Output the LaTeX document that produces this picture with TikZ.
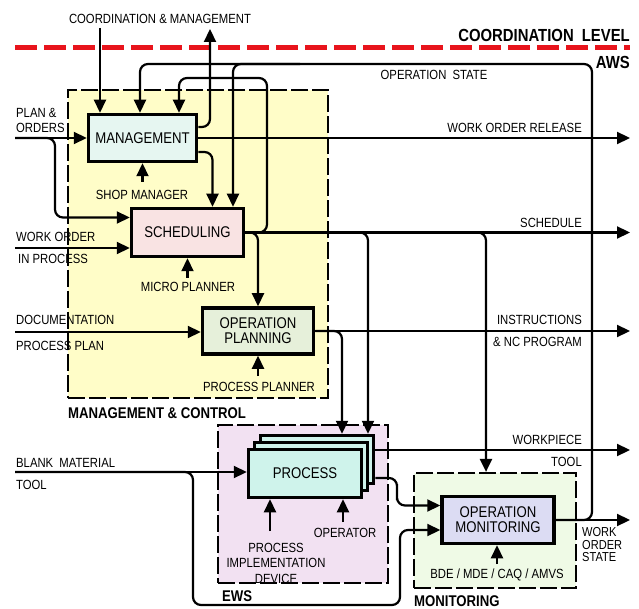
\documentclass[tikz,border=0pt]{standalone}
\usepackage{fontspec}
\setmainfont{Liberation Sans}[FakeStretch=0.85]
\usetikzlibrary{arrows.meta}

\definecolor{mcfill}{HTML}{FFFDC8}
\definecolor{ewsfill}{HTML}{F2E1F2}
\definecolor{monfill}{HTML}{EFFAE6}
\definecolor{mgmtfill}{HTML}{E6F6F1}
\definecolor{schedfill}{HTML}{F9E3E3}
\definecolor{opplanfill}{HTML}{E6F0DA}
\definecolor{procfill}{HTML}{CFF3EB}
\definecolor{opmonfill}{HTML}{DCDCF3}
\definecolor{coordred}{HTML}{E8141C}

\newcommand{\lblfont}{\fontsize{13.3}{15.5}\selectfont}
\newcommand{\unitfont}{\fontsize{15.5}{15}\selectfont}
\newcommand{\grpfont}{\fontsize{15.5}{17}\selectfont\bfseries}

\tikzset{
	lbl/.style={font=\lblfont, inner sep=0pt},
	grplbl/.style={font=\grpfont, inner sep=0pt},
	unitbox/.style={draw, line width=3.5pt, inner sep=0pt, align=center, font=\unitfont},
	region/.style={draw, line width=2.2pt, dash pattern=on 17pt off 4pt, inner sep=0pt},
	coordline/.style={coordred, line width=5pt, dash pattern=on 22pt off 7pt},
	flow/.style={line width=2.2pt, rounded corners=8pt},
	arr/.style={flow, -{Triangle[length=13pt,width=12pt]}}
}

\begin{document}
\begin{tikzpicture}[x=1pt, y=-1pt]
	\useasboundingbox (0,0) rectangle (639,609);
	\coordinate (rx) at (630,0);

	% regions
	\node[region, fill=mcfill, minimum width=260pt, minimum height=308pt] (mc) at (198,244) {};
	\node[region, fill=ewsfill, minimum width=170pt, minimum height=158pt] (ews) at (303,504) {};
	\node[region, fill=monfill, minimum width=162pt, minimum height=115pt] (mon) at (495,530.5) {};
	\node[grplbl, anchor=west] (mclbl) at (68,413) {MANAGEMENT \& CONTROL};
	\node[grplbl, anchor=west] (ewslbl) at (222,596) {EWS};
	\node[grplbl, anchor=west] (monlbl) at (414,601) {MONITORING};

	% coordination level
	\coordinate (clL) at (15,48);
	\coordinate (clR) at (630,48);
	\draw[coordline] (clL) -- (clR);
	\node[grplbl, font=\fontsize{17.5}{19}\selectfont\bfseries, anchor=east] (cllbl) at (630,35) {COORDINATION\hspace{4pt} LEVEL};
	\node[grplbl, font=\fontsize{17.5}{19}\selectfont\bfseries, anchor=east] (awslbl) at (630,62) {AWS};

	% units
	\node[unitbox, fill=mgmtfill, minimum width=108pt, minimum height=47pt] (mgmt) at (142.5,138) {MANAGEMENT};
	\node[unitbox, fill=schedfill, minimum width=112pt, minimum height=48pt] (sched) at (187.5,232.5) {SCHEDULING};
	\node[unitbox, fill=opplanfill, minimum width=111pt, minimum height=46pt] (opplan) at (258,331) {OPERATION\\PLANNING};
	\node[unitbox, fill=procfill, minimum width=113pt, minimum height=48pt] (procC) at (317,459.5) {};
	\node[unitbox, fill=procfill, minimum width=113pt, minimum height=48pt] (procB) at (311,466.5) {};
	\node[unitbox, fill=procfill, minimum width=113pt, minimum height=48pt] (proc) at (305,473.5) {PROCESS};
	\node[unitbox, fill=opmonfill, minimum width=112pt, minimum height=47pt] (opmon) at (498,520) {OPERATION\\MONITORING};

	% labels
	\node[lbl] (cmlbl) at (160,19) {COORDINATION \& MANAGEMENT};
	\node[lbl] (oslbl) at (434,75) {OPERATION\hspace{3pt} STATE};
	\node[lbl, anchor=east] (worlbl) at (582,128) {WORK ORDER RELEASE};
	\node[lbl, anchor=west] (planlbl) at (16,113) {PLAN \&};
	\node[lbl, anchor=west] (ordlbl) at (16,128) {ORDERS};
	\node[lbl] (shoplbl) at (142,195) {SHOP MANAGER};
	\node[lbl, anchor=west] (wolbl) at (16,237) {WORK ORDER};
	\node[lbl, anchor=west] (iplbl) at (18,259) {IN PROCESS};
	\node[lbl] (microlbl) at (188,287) {MICRO PLANNER};
	\node[lbl, anchor=west] (doclbl) at (16,320) {DOCUMENTATION};
	\node[lbl, anchor=west] (pplbl) at (16,346) {PROCESS PLAN};
	\node[lbl] (pplannerlbl) at (259,387) {PROCESS PLANNER};
	\node[lbl, anchor=east] (schedlbl) at (582,223) {SCHEDULE};
	\node[lbl, anchor=east] (instlbl) at (582,320) {INSTRUCTIONS};
	\node[lbl, anchor=east] (nclbl) at (582,342) {\& NC PROGRAM};
	\node[lbl, anchor=west] (bmlbl) at (16,463) {BLANK\hspace{3pt} MATERIAL};
	\node[lbl, anchor=west] (toollbl) at (16,485) {TOOL};
	\node[lbl, align=center] (pidlbl) at (276,563) {PROCESS\\IMPLEMENTATION\\DEVICE};
	\node[lbl] (oplbl) at (345,533) {OPERATOR};
	\node[lbl, anchor=east] (wplbl) at (582,440) {WORKPIECE};
	\node[lbl, anchor=east] (tool2lbl) at (582,462) {TOOL};
	\node[lbl, anchor=west, align=left, font=\fontsize{13}{12.5}\selectfont] (woslbl) at (582,545) {WORK\\ORDER\\STATE};
	\node[lbl] (bdelbl) at (497,575) {BDE / MDE / CAQ / AMVS};

	% inputs from the left
	\coordinate (planIn) at (15,138);
	\coordinate (planBr) at (55,180);
	\draw[arr] (planIn) -- (mgmt.west);
	\draw[arr] (planIn) -| (planBr) |- ([yshift=15pt]sched.west);
	\coordinate (woIn) at (15,248);
	\draw[arr] (woIn) -- (woIn -| sched.west);
	\coordinate (docIn) at (15,332);
	\draw[arr] (docIn) -- (docIn -| opplan.west);
	\coordinate (bmIn) at (15,472);
	\coordinate (bmLow) at (193,605);
	\coordinate (bmUp) at (400,530);
	\draw[arr] (bmIn) -- (bmIn -| proc.west);
	\draw[arr] (bmIn) -| (bmLow) -| (bmUp) -- (bmUp -| opmon.west);

	% coordination & management
	\coordinate (cmIn) at (100,28);
	\coordinate (cmOut) at (210,29);
	\draw[arr] (cmIn) -- (cmIn |- mgmt.north);
	\draw[arr] ([yshift=11pt]mgmt.east) -| (cmOut);

	% management outputs
	\draw[arr] (mgmt.east) -- (mgmt.east -| rx);
	\draw[arr] ([yshift=-14pt]mgmt.east) -| ([xshift=25pt]sched.north);

	% scheduling outputs
	\coordinate (fbTop) at (267,78);
	\draw[arr] (sched.east) -- (sched.east -| rx);
	\draw[arr] (sched.east) -| (fbTop) -| ([xshift=36.5pt]mgmt.north);
	\draw[arr] (sched.east) -| (opplan.north);
	\draw[arr] (sched.east) -| ([xshift=51pt]procC.north);
	\draw[arr] (sched.east) -| ([xshift=-9pt]mon.north);

	% operation planning outputs
	\draw[arr] (opplan.east) -- (opplan.east -| rx);
	\draw[arr] (opplan.east) -| ([xshift=25pt]procC.north);

	% process outputs
	\coordinate (wpOut) at ([yshift=9.5pt]procC.east);
	\coordinate (pmOut) at ([yshift=-18.5pt]procC.east);
	\coordinate (pmBend) at (397,492);
	\draw[arr] (wpOut) -- (wpOut -| rx);
	\draw[arr] (pmOut) -| (pmBend) |- ([yshift=14.5pt]opmon.west);

	% operation state
	\coordinate (osTop) at (592,64);
	\coordinate (osMid) at (300,64);
	\draw[arr] (opmon.east) -- (opmon.east -| rx);
	\draw[arr] (opmon.east) -| (osTop) -| ([xshift=-2.5pt]mgmt.north);
	\draw[arr] (osMid) -| ([xshift=45.5pt]sched.north);

	% resources from below
	\coordinate (shopIn) at (142.5,182);
	\coordinate (microIn) at (187.5,278);
	\coordinate (ppIn) at (258,376);
	\coordinate (pidIn) at (270,531);
	\coordinate (opIn) at (343,522);
	\coordinate (bdeIn) at (497,564);
	\draw[arr] (shopIn) -- (shopIn |- mgmt.south);
	\draw[arr] (microIn) -- (microIn |- sched.south);
	\draw[arr] (ppIn) -- (ppIn |- opplan.south);
	\draw[arr] (pidIn) -- (pidIn |- proc.south);
	\draw[arr] (opIn) -- (opIn |- proc.south);
	\draw[arr] (bdeIn) -- (bdeIn |- opmon.south);
\end{tikzpicture}
\end{document}
